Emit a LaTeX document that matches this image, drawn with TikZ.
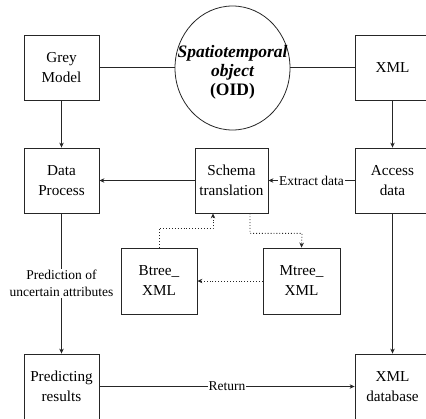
\documentclass[tikz,border=0pt]{standalone}
\usepackage{fontspec}
\setmainfont{Liberation Serif}
\usetikzlibrary{arrows.meta,shapes.geometric}
\begin{document}
\begin{tikzpicture}[x=1pt,y=-1pt,
  line width=0.8pt, draw=black!85,
  box/.style={draw, rectangle, minimum width=75pt, minimum height=65pt, inner sep=0pt,
    align=center, font=\fontsize{15.2}{20}\selectfont},
  lbl/.style={fill=white, inner sep=1pt, align=center, font=\fontsize{13.5}{17}\selectfont},
  tip/.style={-{Stealth[length=5pt,width=4.5pt]}},
  dotline/.style={dotted, line width=0.9pt}]
\useasboundingbox (0,0) rectangle (426,418);
\begin{scope}
\clip (0,0) rectangle (426,418);
% top row
\node[box] (grey) at (61.5,67.5) {Grey\\Model};
\node[draw, ellipse, minimum width=115pt, minimum height=124pt, inner sep=0pt] (oid) at (232.5,68) {};
\node[align=center, inner sep=0pt, font=\fontsize{17.5}{19}\selectfont\bfseries] (oidtext)
  at ([yshift=-4pt]oid.center)
  {\itshape Spatiotemporal\\\itshape object\\(OID)};
\node[box] (xml) at (392.5,67.5) {XML};
% middle row
\node[box] (dp) at (61.5,180.5) {Data\\Process};
\node[box, minimum width=73pt] (st) at (231.5,180.5) {Schema\\translation};
\node[box] (ad) at (392.5,180.5) {Access\\data};
% index structures
\node[box, minimum width=76pt, minimum height=66pt] (bt) at (159,281) {Btree\_\\XML};
\node[box, minimum width=77pt, minimum height=66pt] (mt) at (301.5,281) {Mtree\_\\XML};
% bottom row
\node[box] (pr) at (61.5,386.5) {Predicting\\results};
\node[box] (xd) at (392.5,386.5) {XML\\database};
% connectors
\draw (grey.east) -- (oid.west |- grey.east);
\draw (oid.east |- xml.west) -- (xml.west);
\draw[tip] (grey.south) -- (dp.north);
\draw[tip] (xml.south) -- (ad.north);
\draw[tip] (st.west) -- (dp.east);
\draw[tip] (ad.west) -- node[lbl]{Extract data} (st.east);
\draw[tip, dotline] (bt.north) -- ++(0,-19) -| ([xshift=-18.5pt]st.south);
\draw[tip, dotline] ([xshift=18.5pt]st.south) |- ++(52,20) -- (mt.north);
\draw[tip, dotline] (mt.west) -- (bt.east);
\draw[tip] (dp.south) -- node[lbl]{Prediction of\\uncertain attributes} (pr.north);
\draw[tip] (pr.east) -- node[lbl]{Return} (xd.west);
\draw[tip] (ad.south) -- (xd.north);
\end{scope}
\end{tikzpicture}
\end{document}
